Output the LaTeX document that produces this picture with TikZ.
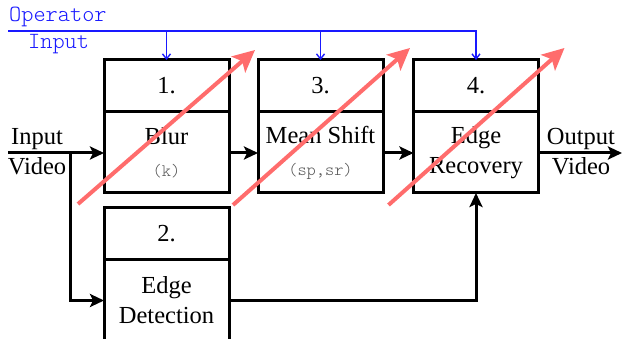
\documentclass[tikz,border=0pt]{standalone}
\usepackage{fontspec}
\setmainfont{Liberation Serif}
\setmonofont{Latin Modern Mono Light}
\usetikzlibrary{arrows.meta,positioning,calc}
\definecolor{opblue}{RGB}{25,25,255}
\definecolor{parred}{RGB}{255,108,108}
\definecolor{pargray}{RGB}{85,85,85}
\newcommand{\partext}[1]{{\fontsize{17.5}{20}\selectfont\ttfamily\color{pargray}#1}}
\begin{document}
\begin{tikzpicture}[x=1pt,y=-1pt,
  numbox/.style={draw,line width=3pt,outer sep=0pt,minimum width=125pt,minimum height=52pt,inner sep=0pt,font=\fontsize{24.5}{30}\selectfont},
  stagebox/.style={draw,line width=3pt,outer sep=0pt,minimum width=125pt,minimum height=81pt,inner sep=0pt,align=center,font=\fontsize{24.5}{30}\selectfont},
  optext/.style={font=\fontsize{23.2}{26}\selectfont\ttfamily,text=opblue,inner sep=0pt},
  io/.style={align=center,inner sep=0pt,font=\fontsize{24.5}{30}\selectfont},
  flow/.style={line width=3pt,-{Stealth[length=14pt,width=13pt,inset=3pt]}},
  opline/.style={opblue,line width=1.4pt},
  oparrow/.style={opline,-{Straight Barb[length=5pt,width=8pt]}},
  tune/.style={parred,line width=4pt,-{Stealth[length=22pt,width=21pt,inset=5pt]}}]
\useasboundingbox (0,0) rectangle (622,339);
\clip (0,0) rectangle (622,339);
%white background
\fill[white](0,0)rectangle(622,339);
%stages
\node[numbox] (n1) at (166.5,86) {1.};
\node[stagebox,below=0pt of n1] (blur) {Blur\\[2pt]\partext{(k)}};
\node[numbox] (n3) at (320.5,86) {3.};
\node[stagebox,below=0pt of n3] (mshift) {Mean Shift\\[2pt]\partext{(sp,sr)}};
\node[numbox] (n4) at (476,86) {4.};
\node[stagebox,below=0pt of n4] (erec) {Edge\\Recovery};
\node[numbox] (n2) at (166.5,234) {2.};
\node[stagebox,below=0pt of n2] (edet) {Edge\\Detection};
%input and output
\node[io] (vin) at (37,152) {Input\\Video};
\node[io] (vout) at (581,152) {Output\\Video};
\coordinate (src) at (8,153);
\coordinate (split) at (70,153);
\coordinate (sink) at (622,153);
\draw[flow](src)--(blur.west |- src);
\draw[flow](split)|-(edet.west);
\draw[flow](blur.east |- src)--(mshift.west |- src);
\draw[flow](mshift.east |- src)--(erec.west |- src);
\draw[flow](edet.east)-|(erec.south);
\draw[flow](erec.east |- src)--(sink);
%operator input
\coordinate (opstart) at (8,31);
\node[optext,anchor=west] (opname) at (9,17) {Operator};
\node[optext,anchor=west] (opin) at (28,44) {Input};
\draw[oparrow](opstart)-|(n4.north);
\draw[oparrow](n1.north |- opstart)--(n1.north);
\draw[oparrow](n3.north |- opstart)--(n3.north);
%tunable stages
\draw[tune]($(blur.south west)+(-26,11)$)--($(n1.north east)+(26,-10)$);
\draw[tune]($(mshift.south west)+(-25,12)$)--($(n3.north east)+(27,-12)$);
\draw[tune]($(erec.south west)+(-25,12)$)--($(n4.north east)+(26,-12)$);
\end{tikzpicture}
\end{document}
